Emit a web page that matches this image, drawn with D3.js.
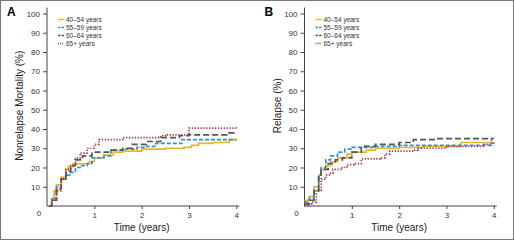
<!DOCTYPE html>
<html>
<head>
<meta charset="utf-8">
<script src="https://cdn.jsdelivr.net/npm/d3@7/dist/d3.min.js"></script>
<style>
  body { margin: 0; background: #fff; }
  svg { display: block; font-family: "Liberation Sans Narrow", "Liberation Sans", Arial, sans-serif; }
</style>
</head>
<body>
<div id="chart"></div>
<script>
// series labels shared by both panels
const groups = ["40\u201354 years", "55\u201359 years", "60\u201364 years", "65+ years"];
const xTicks = [1, 2, 3, 4];
const yTicks = [10, 20, 30, 40, 50, 60, 70, 80, 90, 100];

// Panel A - nonrelapse mortality, [time, %] step points
const nrm4054 = [[0.05, 0], [0.1, 4], [0.15, 8], [0.2, 11], [0.3, 15], [0.4, 19], [0.45, 20.5], [0.55, 22], [0.9, 23], [1.0, 25], [1.2, 26.5], [1.4, 28], [1.6, 28.5], [2.0, 29.5], [2.5, 30], [2.9, 30.5], [3.05, 31.5], [3.2, 32.5], [3.5, 33], [3.85, 34.5], [4.0, 35]];
const nrm5559 = [[0.05, 0], [0.1, 4], [0.2, 10], [0.3, 14], [0.4, 16], [0.5, 17.5], [0.6, 20], [0.7, 21], [0.85, 22], [0.95, 25], [1.2, 26], [1.35, 29], [1.6, 29.5], [1.9, 30.5], [2.1, 31], [2.3, 32.5], [2.8, 32.5], [2.85, 34.5], [4.0, 34.5]];
const nrm6064 = [[0.05, 0], [0.1, 3], [0.2, 9], [0.3, 14], [0.4, 18], [0.5, 21], [0.6, 24], [0.75, 26], [0.95, 28], [1.3, 29], [1.6, 30], [1.8, 32], [2.1, 33.5], [2.4, 35.5], [2.8, 36.5], [3.0, 37], [3.8, 38], [3.95, 39.5]];
const nrm65 = [[0.05, 0], [0.1, 3], [0.2, 8], [0.3, 14], [0.4, 19], [0.5, 21], [0.6, 25], [0.7, 27.5], [0.85, 30], [1.0, 32], [1.1, 34.5], [1.6, 35.5], [2.4, 36.5], [2.5, 37], [2.95, 37], [3.0, 40.5], [4.0, 40]];

// Panel B - relapse, [time, %] step points
const rel4054 = [[0.0, 3], [0.1, 5], [0.2, 10], [0.3, 16], [0.35, 19], [0.45, 21], [0.55, 23], [0.7, 25], [0.9, 27], [1.0, 28], [1.3, 29], [1.5, 30], [2.0, 30.5], [2.5, 31], [3.3, 33], [4.0, 33]];
const rel5559 = [[0.0, 2], [0.1, 4], [0.2, 8], [0.3, 16], [0.35, 20], [0.45, 24], [0.55, 26], [0.7, 28], [0.85, 29.5], [1.0, 30.5], [1.5, 31], [2.0, 31.5], [3.0, 31.5], [3.95, 32.5], [4.0, 33]];
const rel6064 = [[0.0, 1], [0.1, 3], [0.2, 8], [0.3, 15], [0.35, 19], [0.5, 22], [0.65, 24], [0.8, 25], [1.0, 28], [1.2, 31], [1.5, 32], [2.0, 33], [2.3, 34.5], [2.8, 35], [4.0, 35]];
const rel65 = [[0.0, 0], [0.1, 1], [0.15, 2], [0.25, 8], [0.35, 14], [0.45, 16], [0.55, 17], [0.6, 19], [0.8, 20], [0.9, 21.5], [1.05, 22], [1.2, 24.5], [1.6, 25], [1.7, 27], [1.8, 28.5], [2.3, 29], [2.4, 30], [3.0, 31], [3.8, 32], [3.95, 35]];

const colors = ["#e3b82b", "#3a8fd3", "#555555", "#a8364f"];
const dashes = [null, "4,2", "6,3", "1.3,1.6"];

const W = 514, H = 241;
const svg = d3.select("#chart").append("svg")
    .attr("width", W)
    .attr("height", H);

// outer frame
svg.append("rect")
    .attr("x", 0.5).attr("y", 0.5)
    .attr("width", W - 1).attr("height", H - 2)
    .attr("fill", "none")
    .attr("stroke", "#777");

function drawPanel(left, letter, yTitle, seriesList) {
    const top = 13.5, pw = 189.3, ph = 192.5;
    const g = svg.append("g").attr("transform", `translate(${left},${top})`);

    const x = d3.scaleLinear().domain([0, 4]).range([0, pw]);
    const y = d3.scaleLinear().domain([0, 100]).range([ph, 0]);

    // y axis
    const yAxis = g.append("g").call(d3.axisLeft(y).tickValues(yTicks).tickSize(4).tickSizeOuter(0).tickFormat(d3.format("d")));
    yAxis.select(".domain").attr("d", `M0,${ph}V-6`);
    // x axis
    const xAxis = g.append("g").attr("transform", `translate(0,${ph})`)
        .call(d3.axisBottom(x).tickValues(xTicks).tickSize(3).tickSizeOuter(0).tickPadding(3).tickFormat(d3.format("d")));
    xAxis.select(".domain").attr("d", `M0,0H${pw + 3}`);

    [yAxis, xAxis].forEach(a => {
        a.selectAll(".domain, line").attr("stroke", "#444").attr("stroke-width", 1);
        a.selectAll("text").attr("fill", "#333").attr("font-size", "8px")
            .attr("font-family", "Liberation Sans, Arial, sans-serif");
    });

    g.append("text")
        .attr("x", -8).attr("y", ph + 10)
        .attr("text-anchor", "middle")
        .attr("font-size", "8px").attr("fill", "#333")
        .attr("font-family", "Liberation Sans, Arial, sans-serif")
        .text("0");

    // curves
    const line = d3.line()
        .x(d => x(d[0]))
        .y(d => y(d[1]))
        .curve(d3.curveStepAfter);

    seriesList.forEach((s, i) => {
        g.append("path")
            .datum(s)
            .attr("d", line)
            .attr("fill", "none")
            .attr("stroke", colors[i])
            .attr("stroke-width", 1.7)
            .attr("stroke-dasharray", dashes[i]);
    });

    // legend
    const lg = g.append("g").attr("transform", "translate(11,6)");
    groups.forEach((name, i) => {
        const row = lg.append("g").attr("transform", `translate(0,${i * 8})`);
        row.append("line")
            .attr("x1", 0).attr("x2", 6)
            .attr("stroke", colors[i])
            .attr("stroke-width", 1.5)
            .attr("stroke-dasharray", dashes[i] === "1.3,1.6" ? "1,1" : (dashes[i] ? "2.5,1" : null));
        row.append("text")
            .attr("x", 8).attr("y", 2.3)
            .attr("font-size", "6.5px").attr("fill", "#333")
            .attr("font-family", "Liberation Sans, Arial, sans-serif")
            .text(name);
    });

    // titles
    g.append("text")
        .attr("transform", `translate(${-24},${ph / 2 - 4}) rotate(-90)`)
        .attr("text-anchor", "middle")
        .attr("font-size", "10px").attr("fill", "#222")
        .text(yTitle);

    g.append("text")
        .attr("x", pw / 2).attr("y", ph + 25)
        .attr("text-anchor", "middle")
        .attr("font-size", "10px").attr("fill", "#222")
        .text("Time (years)");

    svg.append("text")
        .attr("x", left - 40).attr("y", 16)
        .attr("font-size", "12px").attr("font-weight", "bold")
        .attr("font-family", "Liberation Sans, Arial, sans-serif")
        .attr("fill", "#000")
        .text(letter);
}

drawPanel(47, "A", "Nonrelapse Mortality (%)", [nrm4054, nrm5559, nrm6064, nrm65]);
drawPanel(304.5, "B", "Relapse (%)", [rel4054, rel5559, rel6064, rel65]);
</script>
</body>
</html>
